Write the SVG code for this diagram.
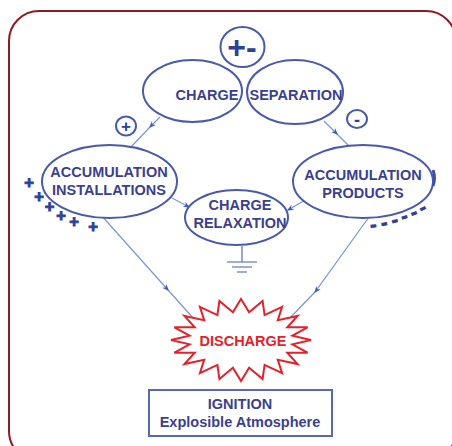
<svg xmlns="http://www.w3.org/2000/svg" width="452" height="446" viewBox="0 0 452 446">
<defs>
<marker id="arr" viewBox="0 0 10 10" refX="8" refY="5" markerWidth="7" markerHeight="7" orient="auto" markerUnits="userSpaceOnUse">
<path d="M0,1 L10,5 L0,9 L3,5 Z" fill="#3f5fb5"/>
</marker>
<style>
.frame{fill:none;stroke:#8c1c24;stroke-width:2}
.ell{fill:#fff;stroke:#4a5aaa;stroke-width:2}
.lbl{font-family:"Liberation Sans",Arial,sans-serif;font-weight:bold;font-size:14.5px;fill:#3b3f8f;text-anchor:middle}
.con{fill:none;stroke:#7b95d6;stroke-width:1.2}
.sym{font-family:"Liberation Sans",Arial,sans-serif;font-weight:bold;fill:#2d3f96;text-anchor:middle}
.pl{font-size:16.5px;stroke:#2d3f96;stroke-width:0.9}
.mn{font-size:19px;stroke:#2d3f96;stroke-width:0.9}
.gnd{stroke:#8193c8;stroke-width:1.6;fill:none}
</style>
</defs>
<rect class="frame" x="9" y="11" width="447" height="450" rx="30"/>

<g id="connectors">
<path class="con" d="M160,117 L150,127 L131,147" marker-mid="url(#arr)"/>
<path class="con" d="M324,121 L337,134 L350,147" marker-mid="url(#arr)"/>
<path class="con" d="M172,198 L189,207" marker-end="url(#arr)"/>
<path class="con" d="M307,199 L288,210" marker-end="url(#arr)"/>
<path class="con" d="M101,215 L168,290 L194,319" marker-mid="url(#arr)"/>
<path class="con" d="M369,217 L315,292 L287,321" marker-mid="url(#arr)"/>
</g>

<g id="charge-sep-symbol">
<ellipse class="ell" cx="242.5" cy="47" rx="22" ry="20"/>
<text class="sym" x="242" y="58" font-size="32">+-</text>
</g>

<g id="charge">
<ellipse class="ell" cx="192.5" cy="91" rx="49.5" ry="31"/>
<text class="lbl" x="207" y="100">CHARGE</text>
</g>

<g id="separation">
<ellipse class="ell" cx="295" cy="92" rx="48" ry="32"/>
<text class="lbl" x="296" y="100">SEPARATION</text>
</g>

<g id="plus-symbol">
<ellipse class="ell" cx="126" cy="126" rx="10" ry="9.5"/>
<text class="sym" x="126" y="132" font-size="17">+</text>
</g>

<g id="minus-symbol">
<ellipse class="ell" cx="357" cy="119" rx="10" ry="9"/>
<text class="sym" x="357" y="126" font-size="18">-</text>
</g>

<g id="accumulation-installations">
<ellipse class="ell" cx="109.5" cy="181.5" rx="67.5" ry="36.5"/>
<text class="lbl" x="109" y="177">ACCUMULATION</text>
<text class="lbl" x="109" y="195">INSTALLATIONS</text>
<text class="sym pl" x="29" y="188">+</text>
<text class="sym pl" x="39" y="202">+</text>
<text class="sym pl" x="49.5" y="212">+</text>
<text class="sym pl" x="61" y="221">+</text>
<text class="sym pl" x="74" y="227">+</text>
<text class="sym pl" x="93" y="232">+</text>
</g>

<g id="accumulation-products">
<ellipse class="ell" cx="363" cy="181.5" rx="70" ry="36.5"/>
<text class="lbl" x="363" y="180">ACCUMULATION</text>
<text class="lbl" x="363" y="198">PRODUCTS</text>
<text class="sym mn" transform="translate(374,231) rotate(-6)">-</text>
<text class="sym mn" transform="translate(385,229) rotate(-10)">-</text>
<text class="sym mn" transform="translate(396,226) rotate(-14)">-</text>
<text class="sym mn" transform="translate(406,222) rotate(-18)">-</text>
<text class="sym mn" transform="translate(416,218) rotate(-22)">-</text>
<text class="sym mn" transform="translate(425,213) rotate(-26)">-</text>
<path d="M433,170 Q436,178 433,186" stroke="#3d50a5" stroke-width="3" fill="none"/>
</g>

<g id="charge-relaxation">
<ellipse class="ell" cx="236.5" cy="217.5" rx="51.5" ry="27.5"/>
<text class="lbl" x="240" y="210">CHARGE</text>
<text class="lbl" x="240" y="228">RELAXATION</text>
<path class="gnd" d="M242,245 V262 M227,262 H257 M232,267 H252 M237,272 H247"/>
</g>

<g id="discharge">
<polygon fill="#fff" stroke="#e3222b" stroke-width="2" points="241,299 249.1,312.3 262.6,301 264.6,315.1 282.1,306.8 277.8,320.2 297.6,315.9 287.3,327.3 307.6,327.3 292.4,335.6 311,340 292.4,344.4 307.6,352.7 287.3,352.7 297.6,364.1 277.8,359.8 282.1,373.2 264.6,364.9 262.6,379 249.1,367.7 241,381 232.9,367.7 219.4,379 217.4,364.9 199.9,373.2 204.2,359.8 184.4,364.1 194.7,352.7 174.4,352.7 189.6,344.4 171,340 189.6,335.6 174.4,327.3 194.7,327.3 184.4,315.9 204.2,320.2 199.9,306.8 217.4,315.1 219.4,301 232.9,312.3"/>
<text class="lbl" x="243" y="346" style="fill:#e3222b">DISCHARGE</text>
</g>

<g id="ignition">
<rect x="149" y="390" width="183" height="46" fill="#fff" stroke="#5868b8" stroke-width="2"/>
<text class="lbl" x="240" y="409" font-size="14">IGNITION</text>
<text class="lbl" x="240" y="427">Explosible Atmosphere</text>
</g>
</svg>
